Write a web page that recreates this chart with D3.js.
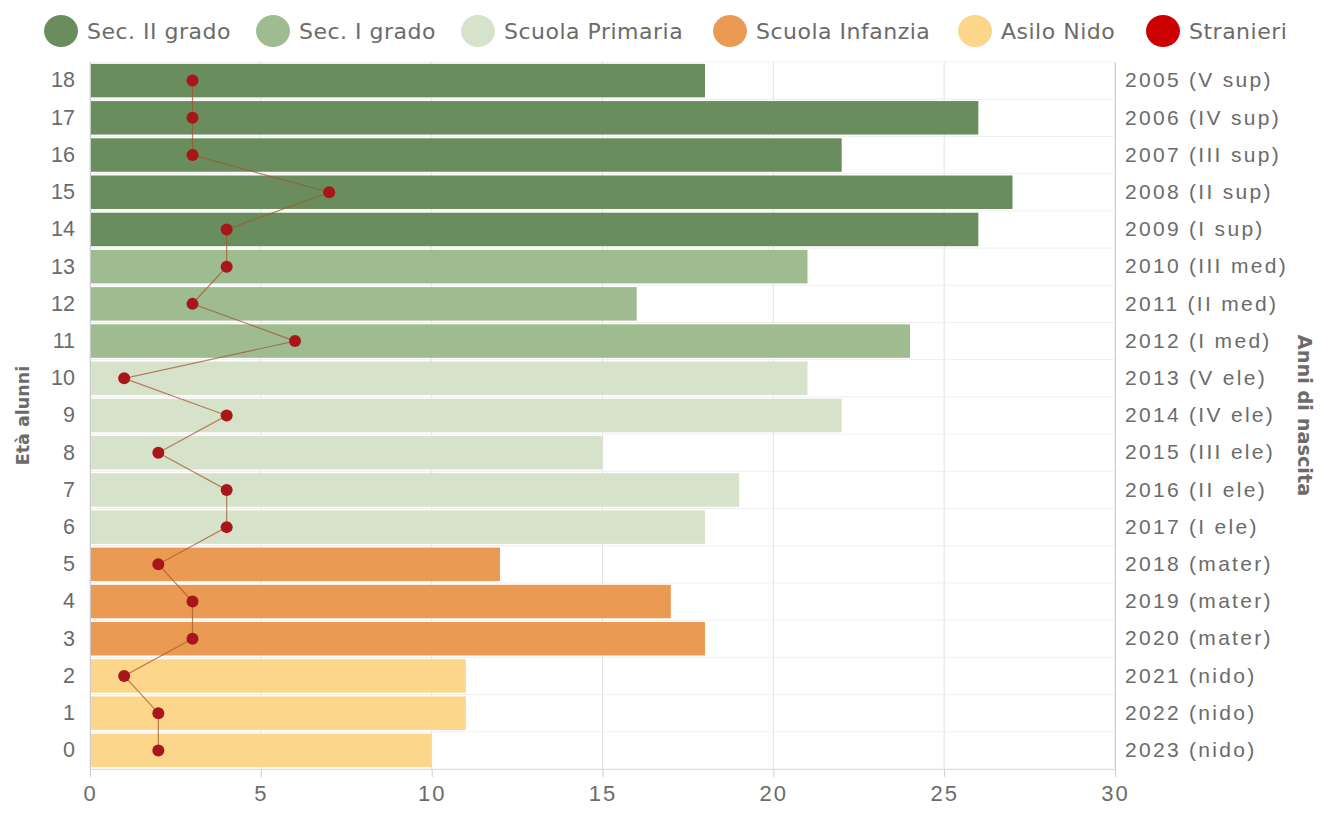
<!DOCTYPE html>
<html>
<head>
<meta charset="utf-8">
<script src="https://cdn.jsdelivr.net/npm/d3@7"></script>
<style>
    body { margin: 0; background: #fff; }
    svg { font-family: "DejaVu Sans", sans-serif; }
    .tick text { fill: #6b6b6b; font-size: 21.5px; }
    .axis-right .tick text { font-size: 21px; letter-spacing: 2.3px; }
    .axis-bottom .tick text { font-size: 22px; letter-spacing: 2px; }
    .axis-title { fill: #6b6b6b; font-weight: bold; }
    .legend text { fill: #6b6b6b; font-size: 22px; letter-spacing: 0.5px; }
</style>
</head>
<body>
<div id="chart"></div>
<script>
// ages from 18 down to 0, as shown top to bottom
const ages = [18, 17, 16, 15, 14, 13, 12, 11, 10, 9, 8, 7, 6, 5, 4, 3, 2, 1, 0];
const birthLabels = ['2005 (V sup)', '2006 (IV sup)', '2007 (III sup)', '2008 (II sup)', '2009 (I sup)',
    '2010 (III med)', '2011 (II med)', '2012 (I med)', '2013 (V ele)', '2014 (IV ele)', '2015 (III ele)',
    '2016 (II ele)', '2017 (I ele)', '2018 (mater)', '2019 (mater)', '2020 (mater)',
    '2021 (nido)', '2022 (nido)', '2023 (nido)'];
const pupils = [18, 26, 22, 27, 26, 21, 16, 24, 21, 22, 15, 19, 18, 12, 17, 18, 11, 11, 10];
const foreigners = [3, 3, 3, 7, 4, 4, 3, 6, 1, 4, 2, 4, 4, 2, 3, 3, 1, 2, 2];
const schoolLevel = ['sec2', 'sec2', 'sec2', 'sec2', 'sec2', 'sec1', 'sec1', 'sec1',
    'prim', 'prim', 'prim', 'prim', 'prim', 'inf', 'inf', 'inf', 'nido', 'nido', 'nido'];
const levelKeys = ['sec2', 'sec1', 'prim', 'inf', 'nido'];
const levelNames = ['Sec. II grado', 'Sec. I grado', 'Scuola Primaria', 'Scuola Infanzia', 'Asilo Nido'];
const levelColors = ['#6a8d5d', '#9fbb90', '#d6e2c9', '#eb9a54', '#fcd68b'];
const xTicks = [0, 5, 10, 15, 20, 25, 30];

const width = 1324, height = 816;
const margin = { top: 62, bottom: 47, left: 90, right: 209 };

const svg = d3.select('#chart').append('svg')
    .attr('width', width).attr('height', height);

const color = d3.scaleOrdinal(levelKeys, levelColors);

const x = d3.scaleLinear([0, 30], [margin.left, width - margin.right]);
const y = d3.scaleBand(ages.map(String), [margin.top, height - margin.bottom]).paddingInner(0.1).paddingOuter(0.05);

const rows = ages.map((a, i) => ({
    age: String(a), label: birthLabels[i], value: pupils[i], foreign: foreigners[i], level: schoolLevel[i]
}));

// gridlines: vertical at ticks, horizontal at band boundaries
svg.append('g').selectAll('line.vgrid')
    .data(xTicks).join('line')
    .attr('x1', d => x(d)).attr('x2', d => x(d))
    .attr('y1', margin.top).attr('y2', height - margin.bottom)
    .attr('stroke', '#e2e2e2');
const step = y.step();
const y0 = y(ages[0].toString()) - step * y.paddingInner() / 2;
svg.append('g').selectAll('line.hgrid')
    .data(d3.range(ages.length + 1)).join('line')
    .attr('x1', margin.left).attr('x2', width - margin.right)
    .attr('y1', i => y0 + i * step).attr('y2', i => y0 + i * step)
    .attr('stroke', '#efefef');

// bars
svg.append('g').selectAll('rect')
    .data(rows).join('rect')
    .attr('x', x(0))
    .attr('y', d => y(d.age))
    .attr('width', d => x(d.value) - x(0))
    .attr('height', y.bandwidth())
    .attr('fill', d => color(d.level));

// axes
const axisLeft = svg.append('g')
    .attr('transform', `translate(${margin.left},0)`)
    .call(d3.axisLeft(y).tickSize(0).tickPadding(15));
axisLeft.select('.domain').attr('stroke', '#ccc');

const axisRight = svg.append('g').classed('axis-right', true)
    .attr('transform', `translate(${width - margin.right},0)`)
    .call(d3.axisRight(y).tickSize(0).tickPadding(10).tickFormat((d, i) => birthLabels[i]));
axisRight.select('.domain').attr('stroke', '#ccc');

const axisBottom = svg.append('g').classed('axis-bottom', true)
    .attr('transform', `translate(0,${height - margin.bottom})`)
    .call(d3.axisBottom(x).tickValues(xTicks).tickSize(8).tickPadding(8).tickSizeOuter(0));
axisBottom.select('.domain').attr('stroke', '#ddd');
axisBottom.selectAll('.tick line').attr('stroke', '#ccc');

// foreigners line + dots
const line = d3.line()
    .x(d => x(d.foreign))
    .y(d => y(d.age) + y.bandwidth() / 2);
svg.append('path')
    .datum(rows)
    .attr('d', line)
    .attr('fill', 'none')
    .attr('stroke', '#a0522d')
    .attr('stroke-opacity', 0.7)
    .attr('stroke-width', 1.2);
svg.append('g').selectAll('circle')
    .data(rows).join('circle')
    .attr('cx', d => x(d.foreign))
    .attr('cy', d => y(d.age) + y.bandwidth() / 2)
    .attr('r', 6)
    .attr('fill', '#a8161a');

// axis titles
svg.append('text').classed('axis-title', true)
    .attr('transform', `translate(29,${(margin.top + height - margin.bottom) / 2})rotate(-90)`)
    .attr('text-anchor', 'middle')
    .style('font-size', '17.5px')
    .text('Età alunni');
svg.append('text').classed('axis-title', true)
    .attr('transform', `translate(1298,${(margin.top + height - margin.bottom) / 2})rotate(90)`)
    .attr('text-anchor', 'middle')
    .style('font-size', '19.3px')
    .text('Anni di nascita');

// legend
const legendItems = levelNames.map((n, i) => ({ name: n, color: levelColors[i] }))
    .concat([{ name: 'Stranieri', color: '#cc0000' }]);
const legendX = [61, 273, 478, 730, 975, 1163];
const legend = svg.append('g').classed('legend', true)
    .selectAll('g').data(legendItems).join('g')
    .attr('transform', (d, i) => `translate(${legendX[i]},31)`);
legend.append('ellipse')
    .attr('rx', 17).attr('ry', 16)
    .attr('fill', d => d.color);
legend.append('text')
    .attr('x', 26).attr('dy', '0.35em')
    .text(d => d.name);
</script>
</body>
</html>
